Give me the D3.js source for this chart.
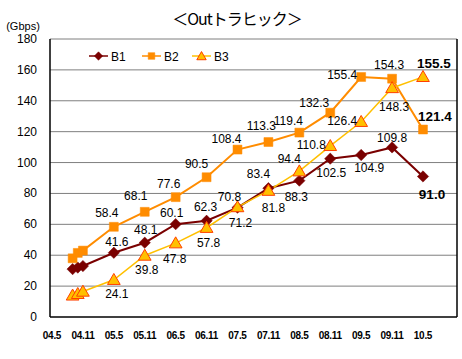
<!DOCTYPE html>
<html><head><meta charset="utf-8">
<script src="https://cdn.jsdelivr.net/npm/d3@7/dist/d3.min.js"></script>
<style>
body{margin:0;background:#fff;}
svg{display:block;font-family:Arial,"Liberation Sans",sans-serif;}
</style></head>
<body><svg id="c" width="462" height="359"></svg>
<script>
// ---- data ----
const title = "＜Outトラヒック＞";
const unit = "(Gbps)";
const dates = ["04.9","04.10","04.11","05.5","05.11","06.5","06.11","07.5","07.11","08.5","08.11","09.5","09.11","10.5"];
const b1 = [31, 32, 33, 41.6, 48.1, 60.1, 62.3, 70.8, 83.4, 88.3, 102.5, 104.9, 109.8, 91.0];
const b2 = [38, 41.5, 43, 58.4, 68.1, 77.6, 90.5, 108.4, 113.3, 119.4, 132.3, 155.4, 154.3, 121.4];
const b3 = [14, 15, 16.5, 24.1, 39.8, 47.8, 57.8, 71.2, 81.8, 94.4, 110.8, 126.4, 148.3, 155.5];
const seriesNames = ["B1","B2","B3"];
const xTickLabels = ["04.5","04.11","05.5","05.11","06.5","06.11","07.5","07.11","08.5","08.11","09.5","09.11","10.5"];
const yTicks = [0,20,40,60,80,100,120,140,160,180];

// ---- helpers ----
function monthIndex(s){ const [y,m]=s.split(".").map(Number); return (y-4)*12 + (m-5); }
const fmt = v => v.toFixed(1);

// ---- layout ----
const svg = d3.select("#c");
const L=50, R=457, T=39, B=317;
const x = d3.scaleLinear().domain([0,72]).range([52,423]);
const y = d3.scaleLinear().domain([0,180]).range([B,T]);

// label placement offsets (dx,dy of label centre from point); null = no label
const place = {
  B1:[null,null,null,[3,-11],[1,-13],[-4,-12],[-1,-14],[-8,-11],[-10,-15],[-3,16],[1,14],[8,13],[0,-10],[9,18]],
  B2:[null,null,null,[-7,-14],[-9,-16],[-7,-14],[-10,-14],[-11,-11],[-7,-17],[-11,-12],[-16,-10],[-19,-2],[-3,-14],[12,-13]],
  B3:[null,null,null,[3,14],[2,14],[-1,15],[2,15],[3,15],[5,17],[-10,-13],[-19,-1],[-19,-1],[2,19],[11,-13]]
};

// title
svg.append("text").attr("x",237).attr("y",25).attr("text-anchor","middle")
  .style("font-family","'Noto Sans CJK JP',sans-serif").style("font-size","16px")
  .style("letter-spacing","-1px").text(title);
svg.append("text").attr("x",23).attr("y",30).attr("text-anchor","middle")
  .style("font-size","11px").text(unit);

// gridlines
svg.append("g").selectAll("line").data(yTicks.filter(d=>d>0)).join("line")
  .attr("x1",L).attr("x2",R).attr("y1",d=>y(d)).attr("y2",d=>y(d))
  .attr("stroke","#7f7f7f").attr("stroke-width",1);

// y axis labels
svg.append("g").selectAll("text").data(yTicks).join("text")
  .attr("x",37).attr("y",d=>y(d)+4).attr("text-anchor","end")
  .style("font-size","12px").text(d=>d);

// x axis labels
svg.append("g").selectAll("text").data(xTickLabels).join("text")
  .attr("x",d=>x(monthIndex(d))).attr("y",339).attr("text-anchor","middle")
  .style("font-size","10px").style("font-weight","bold").style("letter-spacing","-0.3px").text(d=>d);

// plot frame
svg.append("line").attr("x1",L).attr("x2",L).attr("y1",T).attr("y2",B).attr("stroke","#000").attr("stroke-width",1.5);
svg.append("line").attr("x1",L).attr("x2",R).attr("y1",B).attr("y2",B).attr("stroke","#000").attr("stroke-width",1.5);
svg.append("line").attr("x1",R).attr("x2",R).attr("y1",T).attr("y2",B).attr("stroke","#000").attr("stroke-width",1.5);

const series = [
  {name:"B1", vals:b1, line:"#7a0000", stroke:2, marker:"diamond", fill:"#7a0000", edge:"#7a0000", size:64},
  {name:"B2", vals:b2, line:"#ff8c00", stroke:2, marker:"square", fill:"#ff8c00", edge:"#ff8c00", size:80},
  {name:"B3", vals:b3, line:"#ffc000", stroke:1.5, marker:"triangle", fill:"#ffc000", edge:"#ff4000", size:70}
];
const symType = {diamond:d3.symbolSquare, square:d3.symbolSquare, triangle:d3.symbolTriangle};
const rot = m => m==="diamond" ? " rotate(45)" : "";
const xs = dates.map(monthIndex);
const line = d3.line().x((d,i)=>x(xs[i])).y(d=>y(d));

series.forEach(s=>{
  svg.append("path").attr("d",line(s.vals)).attr("fill","none").attr("stroke",s.line).attr("stroke-width",s.stroke);
});
series.forEach(s=>{
  const sym = d3.symbol().type(symType[s.marker]).size(s.size);
  svg.append("g").selectAll("path").data(s.vals).join("path")
    .attr("d",sym).attr("transform",(d,i)=>`translate(${x(xs[i])},${y(d)+(s.marker==="triangle"?1:0)})${rot(s.marker)}`)
    .attr("fill",s.fill).attr("stroke",s.edge).attr("stroke-width",s.marker==="triangle"?1:0.5);
});
// labels
series.forEach(s=>{
  const pl = place[s.name];
  s.vals.forEach((v,i)=>{
    if(!pl[i]) return;
    const last = i===s.vals.length-1;
    svg.append("text").attr("x",x(xs[i])+pl[i][0]).attr("y",y(v)+pl[i][1]+4.5)
      .attr("text-anchor","middle")
      .style("font-size",last?"13.5px":"12px").style("font-weight",last?"bold":"normal")
      .text(fmt(v));
  });
});

// legend
const legX = [89,142,192];
series.forEach((s,k)=>{
  const g = svg.append("g").attr("transform",`translate(${legX[k]},56)`);
  g.append("line").attr("x1",0).attr("x2",19).attr("stroke",s.line).attr("stroke-width",1.5);
  g.append("path").attr("d",d3.symbol().type(symType[s.marker]).size(s.size*0.55)())
    .attr("transform",`translate(9.5,${s.marker==="triangle"?1:0})${rot(s.marker)}`)
    .attr("fill",s.fill).attr("stroke",s.edge).attr("stroke-width",s.marker==="triangle"?1:0.5);
  g.append("text").attr("x",22).attr("y",4.5).style("font-size","12px").text(s.name);
});
</script></body></html>
